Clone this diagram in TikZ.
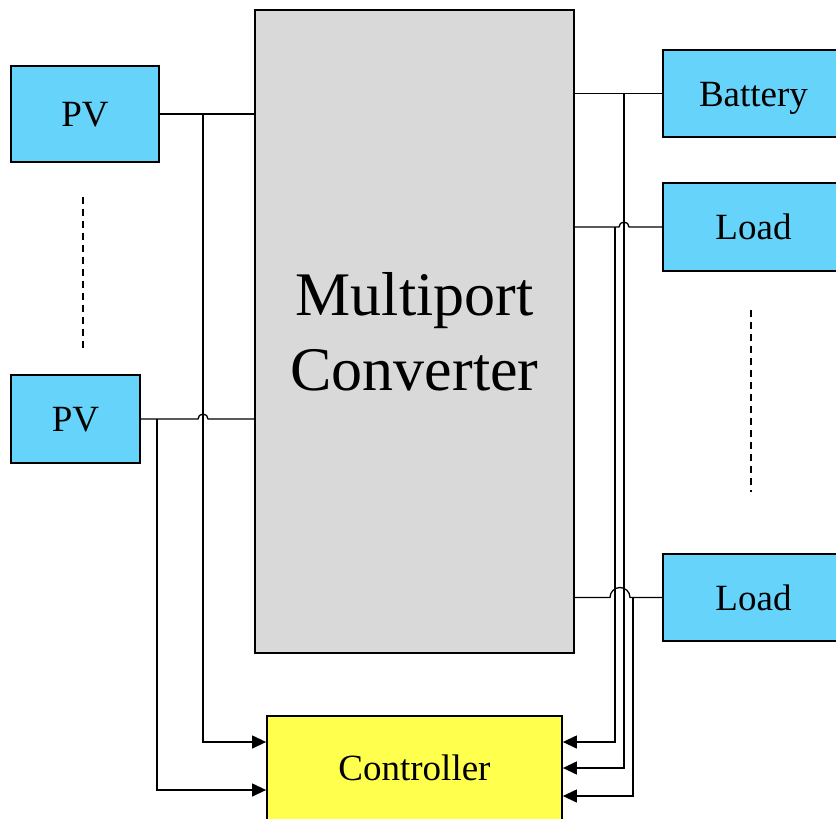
\documentclass[tikz,border=0pt]{standalone}
\usepackage{fontspec}
\setmainfont{Liberation Serif}
\usetikzlibrary{arrows.meta, calc}
\definecolor{cblue}{HTML}{66D4FA}
\definecolor{cgrey}{HTML}{D9D9D9}
\definecolor{cyellow}{HTML}{FFFF4D}
\tikzset{
  every picture/.style={line width=1.2pt},
  box/.style={draw=black, fill=#1, line width=1.8pt, align=center, inner sep=0pt, font=\fontsize{37}{44}\selectfont},
  box/.default=cblue,
  lbl/.style={box=#1, text height=25pt, text depth=0pt},
  lbl/.default=cblue,
  wire/.style={draw=black, line width=1.3pt},
  feed/.style={wire, -{Triangle[length=14pt, width=13pt]}},
  dots/.style={draw=black, line width=1.8pt, dash pattern=on 7pt off 5pt},
}
\begin{document}
\begin{tikzpicture}[x=1pt, y=-1pt]
  \useasboundingbox (0,0) rectangle (836,819);
  % main blocks
  \node[box=cgrey, minimum width=319pt, minimum height=643pt, font=\fontsize{62}{75}\selectfont] (conv) at (414.5,331.5) {Multiport\\Converter};
  \node[lbl=cyellow, minimum width=295pt, minimum height=104pt] (ctrl) at (414.5,768) {Controller};
  % sources
  \node[lbl, minimum width=148pt, minimum height=96pt] (pv1) at (85,114) {PV};
  \node[lbl, minimum width=129pt, minimum height=88pt] (pv2) at (75.5,419) {PV};
  % battery and loads
  \node[lbl, minimum width=181pt, minimum height=87pt] (bat) at (753.5,93.5) {Battery};
  \node[lbl, minimum width=181pt, minimum height=88pt] (ld1) at (753.5,227) {Load};
  \node[lbl, minimum width=181pt, minimum height=87pt] (ld2) at (753.5,597.5) {Load};
  \draw[dots] (83,197) -- (83,348);
  \draw[dots] (751,310) -- (751,492);
  % left taps
  \coordinate (j1) at (203,114);
  \coordinate (j2) at (157,419);
  \draw[wire] (pv1.east) -- (pv1.east -| conv.west);
  \draw[wire] (pv2.east) -- ($(pv2.east -| j1)+(-5,0)$) arc[start angle=180, end angle=0, radius=5pt] -- (pv2.east -| conv.west);
  \draw[feed] (j1) |- ([yshift=26pt]ctrl.west);
  \draw[feed] (j2) |- ([yshift=-22pt]ctrl.west);
  % right taps
  \coordinate (jb) at (624,93.5);
  \coordinate (jl1) at (615,227);
  \coordinate (jl2) at (633,597.5);
  \draw[wire] (bat.west -| conv.east) -- (bat.west);
  \draw[wire] (ld1.west -| conv.east) -- ($(ld1.west -| jb)+(-5,0)$) arc[start angle=180, end angle=0, radius=5pt] -- (ld1.west);
  \draw[wire] (ld2.west -| conv.east) -- ($(ld2.west -| jb)+(-14,0)$) arc[start angle=180, end angle=0, radius=10pt] -- (ld2.west);
  \draw[feed] (jl1) |- ([yshift=26pt]ctrl.east);
  \draw[feed] (jb) |- (ctrl.east);
  \draw[feed] (jl2) |- ([yshift=-28pt]ctrl.east);
\end{tikzpicture}
\end{document}
